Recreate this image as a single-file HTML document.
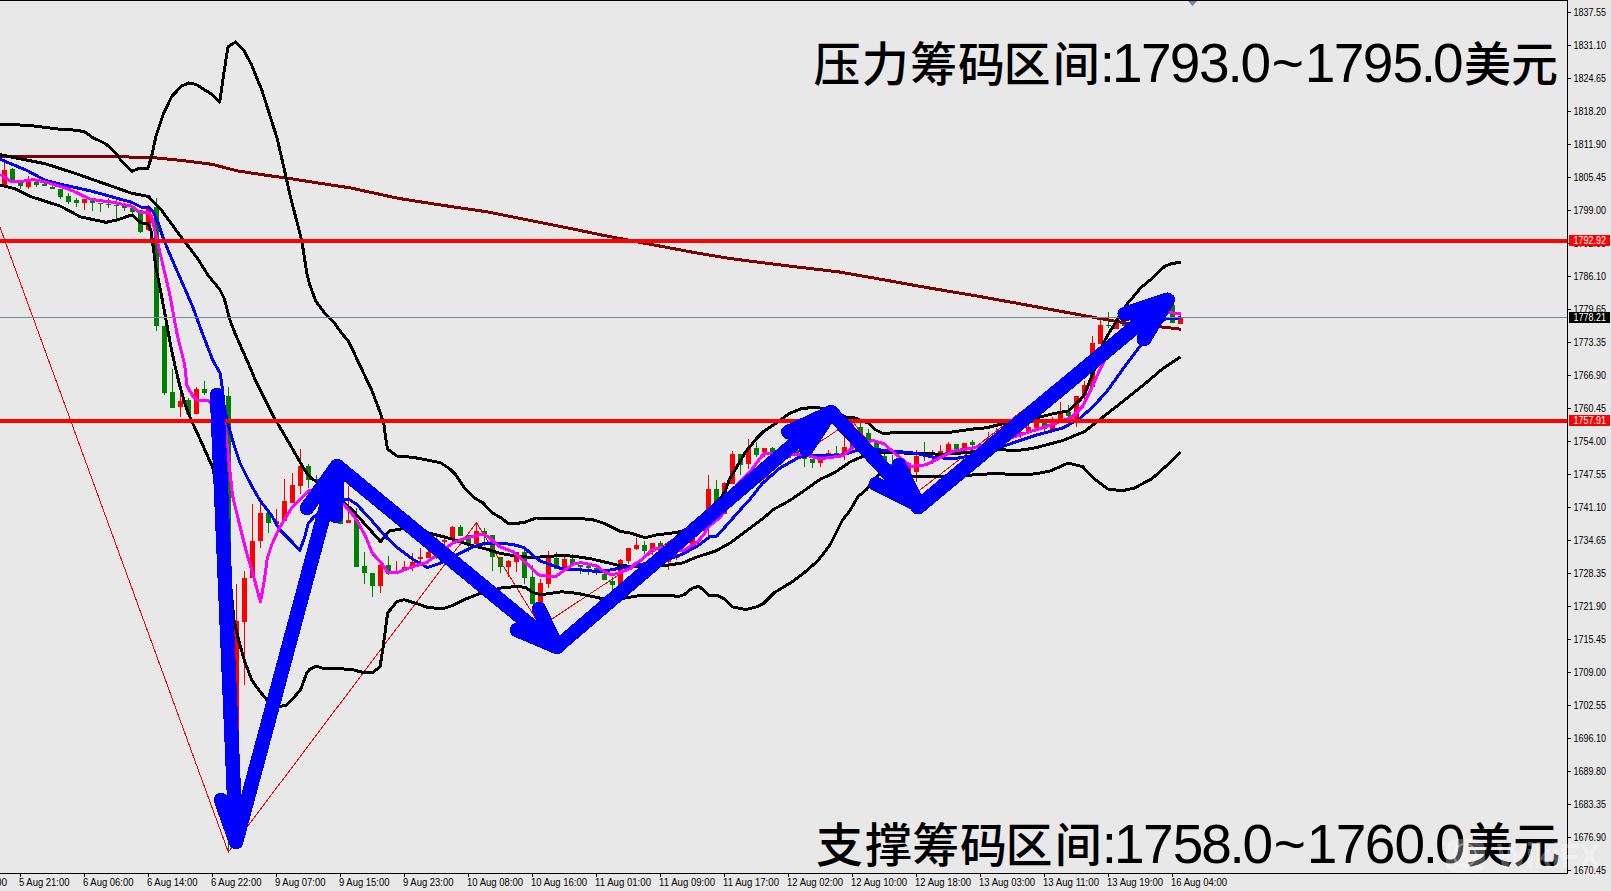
<!DOCTYPE html>
<html><head><meta charset="utf-8"><title>Chart</title><style>
html,body{margin:0;padding:0;background:#e8e8e8;width:1611px;height:891px;overflow:hidden}
svg{display:block}
polyline,line{shape-rendering:crispEdges}
.ax{font-family:"Liberation Sans","DejaVu Sans",sans-serif;font-size:10px;fill:#000}
.big{fill:#000}
.cj{font-family:"Liberation Sans","Noto Sans CJK SC",sans-serif;font-size:47px;font-weight:500}
.dg{font-family:"Liberation Sans",sans-serif;font-size:55px}
.wm{font-family:"Liberation Sans",sans-serif;font-size:35px;font-weight:bold;fill:#fff;opacity:0.3}
</style></head><body>
<svg width="1611" height="891" viewBox="0 0 1611 891">
<rect x="0" y="0" width="1567" height="1" fill="#000"/>
<rect x="1567" y="0" width="1" height="874" fill="#000"/>
<rect x="0" y="873" width="1568" height="1" fill="#000"/>
<defs><clipPath id="c"><rect x="0" y="1" width="1567" height="872"/></clipPath></defs>
<g clip-path="url(#c)">
<rect x="4" y="163" width="1" height="22" fill="#ff0000"/>
<rect x="2" y="170" width="5" height="15" fill="#ff0000"/>
<rect x="12" y="168" width="1" height="13" fill="#008000"/>
<rect x="10" y="169" width="5" height="12" fill="#008000"/>
<rect x="20" y="180" width="1" height="9" fill="#008000"/>
<rect x="18" y="180" width="5" height="6" fill="#008000"/>
<rect x="28" y="176" width="1" height="13" fill="#ff0000"/>
<rect x="26" y="182" width="5" height="5" fill="#ff0000"/>
<rect x="36" y="182" width="1" height="5" fill="#008000"/>
<rect x="34" y="182" width="5" height="3" fill="#008000"/>
<rect x="44" y="183" width="1" height="3" fill="#008000"/>
<rect x="42" y="184" width="5" height="2" fill="#008000"/>
<rect x="52" y="186" width="1" height="3" fill="#008000"/>
<rect x="50" y="187" width="5" height="2" fill="#008000"/>
<rect x="60" y="189" width="1" height="10" fill="#008000"/>
<rect x="58" y="189" width="5" height="8" fill="#008000"/>
<rect x="68" y="193" width="1" height="11" fill="#008000"/>
<rect x="66" y="196" width="5" height="6" fill="#008000"/>
<rect x="76" y="198" width="1" height="9" fill="#008000"/>
<rect x="74" y="200" width="5" height="3" fill="#008000"/>
<rect x="84" y="199" width="1" height="11" fill="#ff0000"/>
<rect x="82" y="199" width="5" height="4" fill="#ff0000"/>
<rect x="92" y="201" width="1" height="10" fill="#008000"/>
<rect x="90" y="201" width="5" height="2" fill="#008000"/>
<rect x="100" y="203" width="1" height="9" fill="#008000"/>
<rect x="98" y="203" width="5" height="1" fill="#008000"/>
<rect x="108" y="198" width="1" height="10" fill="#008000"/>
<rect x="106" y="204" width="5" height="1" fill="#008000"/>
<rect x="116" y="200" width="1" height="19" fill="#008000"/>
<rect x="114" y="205" width="5" height="1" fill="#008000"/>
<rect x="124" y="206" width="1" height="5" fill="#008000"/>
<rect x="122" y="206" width="5" height="2" fill="#008000"/>
<rect x="132" y="208" width="1" height="6" fill="#008000"/>
<rect x="130" y="208" width="5" height="4" fill="#008000"/>
<rect x="140" y="210" width="1" height="23" fill="#008000"/>
<rect x="138" y="210" width="5" height="22" fill="#008000"/>
<rect x="148" y="205" width="1" height="26" fill="#ff0000"/>
<rect x="146" y="209" width="5" height="21" fill="#ff0000"/>
<rect x="156" y="198" width="1" height="133" fill="#008000"/>
<rect x="154" y="207" width="5" height="119" fill="#008000"/>
<rect x="164" y="326" width="1" height="69" fill="#008000"/>
<rect x="162" y="326" width="5" height="67" fill="#008000"/>
<rect x="172" y="369" width="1" height="38" fill="#008000"/>
<rect x="170" y="392" width="5" height="16" fill="#008000"/>
<rect x="180" y="392" width="1" height="25" fill="#ff0000"/>
<rect x="178" y="401" width="5" height="6" fill="#ff0000"/>
<rect x="188" y="398" width="1" height="15" fill="#008000"/>
<rect x="186" y="400" width="5" height="14" fill="#008000"/>
<rect x="196" y="387" width="1" height="26" fill="#ff0000"/>
<rect x="194" y="389" width="5" height="25" fill="#ff0000"/>
<rect x="204" y="381" width="1" height="14" fill="#008000"/>
<rect x="202" y="389" width="5" height="4" fill="#008000"/>
<rect x="212" y="396" width="1" height="16" fill="#008000"/>
<rect x="210" y="398" width="5" height="12" fill="#008000"/>
<rect x="220" y="396" width="1" height="16" fill="#ff0000"/>
<rect x="218" y="398" width="5" height="12" fill="#ff0000"/>
<rect x="228" y="387" width="1" height="465" fill="#008000"/>
<rect x="226" y="396" width="5" height="165" fill="#008000"/>
<rect x="236" y="584" width="1" height="206" fill="#ff0000"/>
<rect x="234" y="621" width="5" height="119" fill="#ff0000"/>
<rect x="244" y="571" width="1" height="114" fill="#ff0000"/>
<rect x="242" y="578" width="5" height="44" fill="#ff0000"/>
<rect x="252" y="504" width="1" height="74" fill="#ff0000"/>
<rect x="250" y="541" width="5" height="37" fill="#ff0000"/>
<rect x="260" y="504" width="1" height="44" fill="#ff0000"/>
<rect x="258" y="513" width="5" height="28" fill="#ff0000"/>
<rect x="268" y="513" width="1" height="20" fill="#008000"/>
<rect x="266" y="513" width="5" height="10" fill="#008000"/>
<rect x="276" y="509" width="1" height="15" fill="#ff0000"/>
<rect x="274" y="521" width="5" height="3" fill="#ff0000"/>
<rect x="284" y="479" width="1" height="43" fill="#ff0000"/>
<rect x="282" y="501" width="5" height="20" fill="#ff0000"/>
<rect x="292" y="473" width="1" height="30" fill="#ff0000"/>
<rect x="290" y="485" width="5" height="18" fill="#ff0000"/>
<rect x="300" y="449" width="1" height="45" fill="#ff0000"/>
<rect x="298" y="466" width="5" height="20" fill="#ff0000"/>
<rect x="308" y="464" width="1" height="24" fill="#008000"/>
<rect x="306" y="466" width="5" height="14" fill="#008000"/>
<rect x="316" y="475" width="1" height="7" fill="#008000"/>
<rect x="314" y="479" width="5" height="2" fill="#008000"/>
<rect x="324" y="481" width="1" height="11" fill="#008000"/>
<rect x="322" y="483" width="5" height="7" fill="#008000"/>
<rect x="332" y="476" width="1" height="12" fill="#ff0000"/>
<rect x="330" y="478" width="5" height="8" fill="#ff0000"/>
<rect x="340" y="476" width="1" height="48" fill="#008000"/>
<rect x="338" y="492" width="5" height="32" fill="#008000"/>
<rect x="348" y="486" width="1" height="37" fill="#ff0000"/>
<rect x="346" y="520" width="5" height="3" fill="#ff0000"/>
<rect x="356" y="508" width="1" height="59" fill="#008000"/>
<rect x="354" y="520" width="5" height="47" fill="#008000"/>
<rect x="364" y="552" width="1" height="32" fill="#008000"/>
<rect x="362" y="566" width="5" height="7" fill="#008000"/>
<rect x="372" y="573" width="1" height="24" fill="#008000"/>
<rect x="370" y="573" width="5" height="13" fill="#008000"/>
<rect x="380" y="565" width="1" height="28" fill="#ff0000"/>
<rect x="378" y="565" width="5" height="21" fill="#ff0000"/>
<rect x="388" y="556" width="1" height="19" fill="#008000"/>
<rect x="386" y="565" width="5" height="9" fill="#008000"/>
<rect x="396" y="561" width="1" height="11" fill="#ff0000"/>
<rect x="394" y="571" width="5" height="1" fill="#ff0000"/>
<rect x="404" y="561" width="1" height="10" fill="#ff0000"/>
<rect x="402" y="567" width="5" height="3" fill="#ff0000"/>
<rect x="412" y="553" width="1" height="18" fill="#ff0000"/>
<rect x="410" y="562" width="5" height="4" fill="#ff0000"/>
<rect x="420" y="548" width="1" height="14" fill="#ff0000"/>
<rect x="418" y="557" width="5" height="2" fill="#ff0000"/>
<rect x="428" y="550" width="1" height="8" fill="#ff0000"/>
<rect x="426" y="552" width="5" height="6" fill="#ff0000"/>
<rect x="436" y="536" width="1" height="23" fill="#ff0000"/>
<rect x="434" y="545" width="5" height="7" fill="#ff0000"/>
<rect x="444" y="538" width="1" height="7" fill="#ff0000"/>
<rect x="442" y="540" width="5" height="2" fill="#ff0000"/>
<rect x="452" y="526" width="1" height="18" fill="#ff0000"/>
<rect x="450" y="527" width="5" height="11" fill="#ff0000"/>
<rect x="460" y="525" width="1" height="11" fill="#008000"/>
<rect x="458" y="527" width="5" height="9" fill="#008000"/>
<rect x="468" y="535" width="1" height="17" fill="#008000"/>
<rect x="466" y="535" width="5" height="10" fill="#008000"/>
<rect x="476" y="522" width="1" height="22" fill="#ff0000"/>
<rect x="474" y="531" width="5" height="13" fill="#ff0000"/>
<rect x="484" y="528" width="1" height="18" fill="#008000"/>
<rect x="482" y="531" width="5" height="3" fill="#008000"/>
<rect x="492" y="535" width="1" height="36" fill="#008000"/>
<rect x="490" y="535" width="5" height="22" fill="#008000"/>
<rect x="500" y="557" width="1" height="16" fill="#008000"/>
<rect x="498" y="557" width="5" height="10" fill="#008000"/>
<rect x="508" y="560" width="1" height="17" fill="#ff0000"/>
<rect x="506" y="561" width="5" height="6" fill="#ff0000"/>
<rect x="516" y="552" width="1" height="20" fill="#ff0000"/>
<rect x="514" y="552" width="5" height="10" fill="#ff0000"/>
<rect x="524" y="546" width="1" height="38" fill="#008000"/>
<rect x="522" y="552" width="5" height="26" fill="#008000"/>
<rect x="532" y="565" width="1" height="38" fill="#008000"/>
<rect x="530" y="577" width="5" height="27" fill="#008000"/>
<rect x="540" y="579" width="1" height="48" fill="#ff0000"/>
<rect x="538" y="583" width="5" height="23" fill="#ff0000"/>
<rect x="548" y="551" width="1" height="37" fill="#ff0000"/>
<rect x="546" y="558" width="5" height="26" fill="#ff0000"/>
<rect x="556" y="552" width="1" height="16" fill="#008000"/>
<rect x="554" y="558" width="5" height="11" fill="#008000"/>
<rect x="564" y="557" width="1" height="11" fill="#ff0000"/>
<rect x="562" y="559" width="5" height="9" fill="#ff0000"/>
<rect x="572" y="554" width="1" height="11" fill="#008000"/>
<rect x="570" y="559" width="5" height="6" fill="#008000"/>
<rect x="580" y="565" width="1" height="9" fill="#008000"/>
<rect x="578" y="565" width="5" height="2" fill="#008000"/>
<rect x="588" y="566" width="1" height="9" fill="#008000"/>
<rect x="586" y="566" width="5" height="2" fill="#008000"/>
<rect x="596" y="568" width="1" height="7" fill="#008000"/>
<rect x="594" y="568" width="5" height="4" fill="#008000"/>
<rect x="604" y="572" width="1" height="8" fill="#008000"/>
<rect x="602" y="574" width="5" height="6" fill="#008000"/>
<rect x="612" y="577" width="1" height="14" fill="#008000"/>
<rect x="610" y="581" width="5" height="4" fill="#008000"/>
<rect x="620" y="559" width="1" height="26" fill="#ff0000"/>
<rect x="618" y="560" width="5" height="25" fill="#ff0000"/>
<rect x="628" y="548" width="1" height="16" fill="#ff0000"/>
<rect x="626" y="548" width="5" height="13" fill="#ff0000"/>
<rect x="636" y="538" width="1" height="12" fill="#ff0000"/>
<rect x="634" y="545" width="5" height="4" fill="#ff0000"/>
<rect x="644" y="541" width="1" height="13" fill="#008000"/>
<rect x="642" y="545" width="5" height="6" fill="#008000"/>
<rect x="652" y="543" width="1" height="12" fill="#ff0000"/>
<rect x="650" y="543" width="5" height="7" fill="#ff0000"/>
<rect x="660" y="541" width="1" height="12" fill="#008000"/>
<rect x="658" y="543" width="5" height="10" fill="#008000"/>
<rect x="668" y="550" width="1" height="20" fill="#ff0000"/>
<rect x="666" y="555" width="5" height="7" fill="#ff0000"/>
<rect x="676" y="552" width="1" height="8" fill="#ff0000"/>
<rect x="674" y="554" width="5" height="4" fill="#ff0000"/>
<rect x="684" y="531" width="1" height="11" fill="#008000"/>
<rect x="682" y="533" width="5" height="7" fill="#008000"/>
<rect x="692" y="521" width="1" height="24" fill="#ff0000"/>
<rect x="690" y="538" width="5" height="7" fill="#ff0000"/>
<rect x="700" y="516" width="1" height="14" fill="#ff0000"/>
<rect x="698" y="518" width="5" height="10" fill="#ff0000"/>
<rect x="708" y="475" width="1" height="65" fill="#ff0000"/>
<rect x="706" y="489" width="5" height="22" fill="#ff0000"/>
<rect x="716" y="480" width="1" height="24" fill="#008000"/>
<rect x="714" y="489" width="5" height="14" fill="#008000"/>
<rect x="724" y="482" width="1" height="32" fill="#ff0000"/>
<rect x="722" y="483" width="5" height="31" fill="#ff0000"/>
<rect x="732" y="451" width="1" height="33" fill="#ff0000"/>
<rect x="730" y="454" width="5" height="30" fill="#ff0000"/>
<rect x="740" y="454" width="1" height="21" fill="#008000"/>
<rect x="738" y="454" width="5" height="11" fill="#008000"/>
<rect x="748" y="439" width="1" height="30" fill="#ff0000"/>
<rect x="746" y="448" width="5" height="16" fill="#ff0000"/>
<rect x="756" y="442" width="1" height="15" fill="#008000"/>
<rect x="754" y="448" width="5" height="7" fill="#008000"/>
<rect x="764" y="448" width="1" height="9" fill="#ff0000"/>
<rect x="762" y="448" width="5" height="4" fill="#ff0000"/>
<rect x="772" y="447" width="1" height="5" fill="#008000"/>
<rect x="770" y="448" width="5" height="4" fill="#008000"/>
<rect x="780" y="448" width="1" height="10" fill="#ff0000"/>
<rect x="778" y="450" width="5" height="5" fill="#ff0000"/>
<rect x="788" y="454" width="1" height="4" fill="#ff0000"/>
<rect x="786" y="456" width="5" height="2" fill="#ff0000"/>
<rect x="796" y="450" width="1" height="5" fill="#008000"/>
<rect x="794" y="450" width="5" height="5" fill="#008000"/>
<rect x="804" y="457" width="1" height="10" fill="#008000"/>
<rect x="802" y="457" width="5" height="2" fill="#008000"/>
<rect x="812" y="459" width="1" height="9" fill="#008000"/>
<rect x="810" y="459" width="5" height="4" fill="#008000"/>
<rect x="820" y="459" width="1" height="8" fill="#ff0000"/>
<rect x="818" y="459" width="5" height="4" fill="#ff0000"/>
<rect x="828" y="450" width="1" height="4" fill="#ff0000"/>
<rect x="826" y="453" width="5" height="1" fill="#ff0000"/>
<rect x="836" y="446" width="1" height="8" fill="#008000"/>
<rect x="834" y="453" width="5" height="1" fill="#008000"/>
<rect x="844" y="435" width="1" height="25" fill="#ff0000"/>
<rect x="842" y="447" width="5" height="7" fill="#ff0000"/>
<rect x="852" y="423" width="1" height="25" fill="#ff0000"/>
<rect x="850" y="442" width="5" height="6" fill="#ff0000"/>
<rect x="860" y="423" width="1" height="10" fill="#008000"/>
<rect x="858" y="427" width="5" height="6" fill="#008000"/>
<rect x="868" y="429" width="1" height="11" fill="#008000"/>
<rect x="866" y="433" width="5" height="7" fill="#008000"/>
<rect x="876" y="443" width="1" height="8" fill="#008000"/>
<rect x="874" y="443" width="5" height="8" fill="#008000"/>
<rect x="884" y="454" width="1" height="9" fill="#008000"/>
<rect x="882" y="456" width="5" height="6" fill="#008000"/>
<rect x="892" y="455" width="1" height="15" fill="#008000"/>
<rect x="890" y="464" width="5" height="2" fill="#008000"/>
<rect x="900" y="464" width="1" height="10" fill="#008000"/>
<rect x="898" y="466" width="5" height="6" fill="#008000"/>
<rect x="908" y="463" width="1" height="12" fill="#ff0000"/>
<rect x="906" y="463" width="5" height="12" fill="#ff0000"/>
<rect x="916" y="450" width="1" height="32" fill="#ff0000"/>
<rect x="914" y="456" width="5" height="16" fill="#ff0000"/>
<rect x="924" y="442" width="1" height="19" fill="#008000"/>
<rect x="922" y="453" width="5" height="2" fill="#008000"/>
<rect x="932" y="450" width="1" height="14" fill="#ff0000"/>
<rect x="930" y="456" width="5" height="2" fill="#ff0000"/>
<rect x="940" y="445" width="1" height="8" fill="#ff0000"/>
<rect x="938" y="451" width="5" height="2" fill="#ff0000"/>
<rect x="948" y="442" width="1" height="10" fill="#ff0000"/>
<rect x="946" y="444" width="5" height="8" fill="#ff0000"/>
<rect x="956" y="444" width="1" height="5" fill="#008000"/>
<rect x="954" y="444" width="5" height="5" fill="#008000"/>
<rect x="964" y="443" width="1" height="5" fill="#ff0000"/>
<rect x="962" y="443" width="5" height="5" fill="#ff0000"/>
<rect x="972" y="440" width="1" height="6" fill="#008000"/>
<rect x="970" y="442" width="5" height="3" fill="#008000"/>
<rect x="980" y="446" width="1" height="2" fill="#008000"/>
<rect x="978" y="446" width="5" height="2" fill="#008000"/>
<rect x="988" y="432" width="1" height="10" fill="#ff0000"/>
<rect x="986" y="438" width="5" height="4" fill="#ff0000"/>
<rect x="996" y="428" width="1" height="6" fill="#ff0000"/>
<rect x="994" y="433" width="5" height="1" fill="#ff0000"/>
<rect x="1004" y="431" width="1" height="8" fill="#ff0000"/>
<rect x="1002" y="433" width="5" height="4" fill="#ff0000"/>
<rect x="1012" y="428" width="1" height="8" fill="#ff0000"/>
<rect x="1010" y="430" width="5" height="4" fill="#ff0000"/>
<rect x="1020" y="432" width="1" height="6" fill="#ff0000"/>
<rect x="1018" y="432" width="5" height="2" fill="#ff0000"/>
<rect x="1028" y="425" width="1" height="7" fill="#ff0000"/>
<rect x="1026" y="427" width="5" height="5" fill="#ff0000"/>
<rect x="1036" y="417" width="1" height="11" fill="#ff0000"/>
<rect x="1034" y="421" width="5" height="7" fill="#ff0000"/>
<rect x="1044" y="423" width="1" height="9" fill="#008000"/>
<rect x="1042" y="423" width="5" height="6" fill="#008000"/>
<rect x="1052" y="417" width="1" height="14" fill="#ff0000"/>
<rect x="1050" y="421" width="5" height="10" fill="#ff0000"/>
<rect x="1060" y="402" width="1" height="19" fill="#ff0000"/>
<rect x="1058" y="414" width="5" height="7" fill="#ff0000"/>
<rect x="1068" y="405" width="1" height="13" fill="#008000"/>
<rect x="1066" y="412" width="5" height="4" fill="#008000"/>
<rect x="1076" y="396" width="1" height="31" fill="#ff0000"/>
<rect x="1074" y="396" width="5" height="23" fill="#ff0000"/>
<rect x="1084" y="381" width="1" height="19" fill="#ff0000"/>
<rect x="1082" y="385" width="5" height="11" fill="#ff0000"/>
<rect x="1092" y="336" width="1" height="50" fill="#ff0000"/>
<rect x="1090" y="343" width="5" height="44" fill="#ff0000"/>
<rect x="1100" y="320" width="1" height="24" fill="#ff0000"/>
<rect x="1098" y="325" width="5" height="19" fill="#ff0000"/>
<rect x="1108" y="312" width="1" height="16" fill="#008000"/>
<rect x="1106" y="325" width="5" height="1" fill="#008000"/>
<rect x="1116" y="320" width="1" height="9" fill="#ff0000"/>
<rect x="1114" y="322" width="5" height="7" fill="#ff0000"/>
<rect x="1124" y="320" width="1" height="7" fill="#008000"/>
<rect x="1122" y="324" width="5" height="2" fill="#008000"/>
<rect x="1132" y="312" width="1" height="12" fill="#ff0000"/>
<rect x="1130" y="315" width="5" height="7" fill="#ff0000"/>
<rect x="1140" y="308" width="1" height="12" fill="#008000"/>
<rect x="1138" y="312" width="5" height="6" fill="#008000"/>
<rect x="1148" y="305" width="1" height="13" fill="#ff0000"/>
<rect x="1146" y="308" width="5" height="8" fill="#ff0000"/>
<rect x="1156" y="300" width="1" height="12" fill="#ff0000"/>
<rect x="1154" y="304" width="5" height="6" fill="#ff0000"/>
<rect x="1164" y="298" width="1" height="12" fill="#008000"/>
<rect x="1162" y="302" width="5" height="6" fill="#008000"/>
<rect x="1172" y="295" width="1" height="28" fill="#008000"/>
<rect x="1170" y="305" width="5" height="18" fill="#008000"/>
<rect x="1180" y="312" width="1" height="11" fill="#ff0000"/>
<rect x="1178" y="317" width="5" height="7" fill="#ff0000"/>
<polyline points="0.0,227.3 228.3,852.0 476.4,522.6 540.6,626.5 852.0,420.6 911.0,497.0 1172.0,295.0" fill="none" stroke="#ff0000" stroke-width="1"/>
<polyline points="0.0,156.2 91.0,156.7 140.0,157.1 156.1,157.9 180.3,160.3 212.6,164.4 236.8,170.8 269.1,175.7 286.9,178.1 317.5,182.9 349.8,187.8 398.2,198.3 438.6,204.7 488.3,212.0 538.0,222.0 587.6,232.0 600.0,234.7 640.3,242.4 693.1,252.3 730.4,258.6 786.2,265.7 839.0,271.9 879.3,279.0 925.9,287.4 972.4,295.2 1019.0,303.6 1065.5,312.2 1100.0,318.5 1125.7,323.0 1159.6,326.7 1181.0,329.2" fill="none" stroke="#800000" stroke-width="3" stroke-linejoin="round"/>
<polyline points="0.0,124.4 15.2,124.7 30.3,125.6 45.5,127.4 60.6,129.4 77.3,130.2 84.8,132.0 92.4,137.3 106.0,144.0 116.7,154.0 121.2,160.8 131.8,171.4 139.4,168.3 147.7,169.0 151.5,157.0 156.0,136.0 163.6,113.3 172.0,96.0 181.8,86.0 188.6,83.0 196.2,84.5 204.5,89.8 212.0,94.4 219.7,102.0 224.2,71.0 228.0,46.7 235.6,42.0 244.0,50.5 251.5,64.8 262.0,90.6 269.7,114.8 277.3,139.0 283.3,165.0 290.0,195.0 299.0,230.0 302.0,242.0 306.7,272.4 309.7,284.5 315.8,301.2 324.8,313.3 334.0,322.4 341.5,333.0 349.0,342.0 359.7,365.0 371.8,390.3 380.0,412.0 384.0,425.0 386.0,440.0 387.6,449.0 396.7,456.0 413.3,457.4 425.5,459.7 440.6,462.7 449.7,468.8 455.8,474.8 464.8,488.5 474.0,497.6 483.0,502.9 492.0,512.7 501.2,518.0 508.8,524.0 524.0,522.6 536.0,518.0 577.0,518.5 592.0,519.5 604.0,523.3 620.0,531.4 630.8,533.2 645.0,537.7 656.0,535.0 677.5,532.3 684.7,530.5 700.0,520.0 712.0,507.0 721.2,497.6 725.7,490.0 729.4,479.4 736.8,467.0 745.5,452.0 756.7,438.4 764.1,431.0 776.6,422.9 789.0,413.6 801.4,408.6 813.8,407.4 826.2,408.6 845.8,417.0 854.8,418.0 868.5,423.2 874.5,429.2 883.6,433.8 895.8,432.3 926.0,432.3 950.3,432.3 971.5,429.2 986.7,427.7 1001.8,424.0 1020.0,421.0 1035.9,418.0 1053.9,413.6 1069.0,410.8 1076.8,403.0 1080.1,400.0 1084.6,394.0 1088.0,386.0 1092.4,374.0 1095.8,367.3 1103.6,342.6 1109.3,332.5 1114.9,323.5 1121.0,313.0 1128.3,302.2 1132.0,298.4 1140.8,287.7 1150.8,279.5 1164.7,266.3 1171.0,263.8 1181.0,262.0" fill="none" stroke="#000" stroke-width="3" stroke-linejoin="round"/>
<polyline points="0.0,154.7 15.0,157.7 45.5,163.8 75.8,173.6 106.0,184.2 131.8,193.3 148.5,196.4 151.5,200.0 160.6,209.0 181.8,238.0 197.0,257.6 208.2,275.5 219.7,289.4 224.2,298.5 230.3,321.2 235.5,334.5 249.0,365.0 255.2,379.7 273.3,416.0 284.0,434.2 294.5,452.4 305.0,470.6 311.2,478.2 315.8,481.2 330.0,492.0 343.0,502.0 352.0,509.7 380.6,541.6 389.3,531.0 402.7,528.6 430.0,533.2 452.7,539.2 471.0,545.3 486.0,549.0 501.2,553.6 516.4,556.0 531.5,557.4 546.7,556.7 561.8,555.2 577.0,556.7 592.0,559.0 620.0,565.7 638.0,566.5 665.0,565.6 682.9,562.9 695.4,557.5 715.2,551.2 731.4,542.2 745.7,531.4 763.7,518.0 772.7,509.9 790.6,500.0 805.0,490.0 820.0,479.4 835.0,472.4 850.3,461.8 862.4,456.5 873.0,452.7 895.8,452.7 917.0,453.5 941.2,454.2 956.4,453.5 971.5,452.0 986.7,449.7 998.8,449.0 1009.4,450.5 1023.3,449.9 1035.9,447.7 1062.8,440.5 1084.4,431.6 1100.5,419.0 1125.7,399.2 1143.6,384.9 1161.6,369.6 1180.4,357.0" fill="none" stroke="#000" stroke-width="3" stroke-linejoin="round"/>
<polyline points="0.0,185.0 15.0,188.8 30.3,196.4 60.6,206.2 80.3,216.8 106.0,222.3 118.0,219.8 130.3,215.3 133.3,216.0 141.0,222.9 147.7,223.6 150.8,229.7 153.0,245.5 156.0,268.0 160.6,291.0 165.5,317.0 170.3,343.6 174.8,365.0 179.4,384.2 185.5,405.5 191.5,420.6 200.6,440.3 212.7,467.6 220.0,500.0 228.0,560.0 234.0,620.0 238.5,639.7 244.5,661.0 252.0,680.6 259.7,691.2 266.5,699.5 272.0,704.0 278.6,706.4 285.5,705.6 291.5,700.3 300.6,689.7 306.7,673.0 309.7,669.2 316.5,666.2 323.3,668.5 337.0,668.8 350.6,669.2 362.7,672.3 371.8,673.0 380.0,667.0 383.0,648.0 387.6,613.0 396.7,601.7 404.2,599.7 418.0,604.0 428.5,607.7 443.6,608.5 452.7,605.5 464.8,599.4 478.5,594.0 489.0,591.0 501.2,588.0 516.4,586.5 525.5,587.3 531.5,591.8 540.6,594.8 561.8,591.8 577.0,593.3 592.0,596.4 604.0,599.0 620.0,598.8 641.6,595.2 672.0,595.2 677.5,597.0 684.7,594.3 691.8,588.4 699.0,586.2 709.0,595.2 717.0,595.2 724.2,598.8 732.2,606.9 745.7,609.6 756.5,606.9 763.7,603.3 774.5,592.5 792.4,581.7 803.2,573.6 817.6,561.0 830.0,545.0 842.7,519.8 849.9,510.8 857.9,496.7 867.0,489.0 873.0,480.0 879.0,474.7 895.0,476.0 917.0,476.2 941.2,476.2 965.5,475.5 986.7,474.0 1000.0,473.8 1023.3,474.7 1035.9,473.8 1050.3,471.0 1068.2,463.0 1082.6,466.6 1093.4,478.2 1107.7,489.0 1122.0,490.8 1134.6,488.0 1152.6,478.2 1170.6,462.0 1180.4,452.2" fill="none" stroke="#000" stroke-width="3" stroke-linejoin="round"/>
<polyline points="0.0,159.2 27.3,170.6 45.5,180.5 60.6,184.2 91.0,191.0 131.8,202.4 141.0,207.0 148.5,207.0 153.0,211.5 159.0,225.0 163.6,239.4 171.2,257.6 181.8,281.8 192.4,306.0 203.0,335.0 212.7,360.0 220.3,373.6 222.6,390.3 224.0,405.5 227.9,423.6 234.0,444.8 240.0,463.0 247.6,478.2 256.7,495.0 261.2,502.0 271.8,515.8 279.4,529.4 291.5,541.5 299.8,550.6 305.2,535.5 308.2,523.3 313.5,517.3 325.0,508.0 341.7,499.6 348.5,499.0 357.0,504.6 370.7,519.4 385.6,536.7 399.0,549.0 414.0,560.0 427.5,567.5 438.6,563.8 455.8,555.2 471.0,547.6 486.0,543.0 501.2,543.0 516.4,545.3 524.0,547.6 539.0,560.5 561.8,568.8 577.0,569.5 599.7,571.8 620.0,568.2 648.7,562.9 673.9,557.5 684.7,553.0 699.0,545.0 709.8,536.8 717.0,536.0 731.4,519.8 745.5,504.0 750.0,499.3 762.0,483.8 779.6,468.3 798.5,457.5 810.6,455.0 830.0,455.5 840.0,455.5 859.4,449.7 877.6,449.7 895.8,451.2 917.0,453.5 933.6,457.3 953.3,458.8 971.5,455.8 986.7,451.2 1001.8,446.7 1035.9,435.2 1062.8,428.0 1079.0,419.0 1093.4,406.4 1107.7,390.3 1125.7,365.1 1140.0,346.3 1150.0,330.0 1166.0,318.5 1181.0,317.9" fill="none" stroke="#0000ff" stroke-width="3" stroke-linejoin="round"/>
<polyline points="0.0,174.4 12.1,182.0 22.7,181.2 33.3,179.7 45.5,182.0 68.2,188.8 91.0,199.4 113.6,202.4 131.8,206.2 139.4,212.3 147.7,212.3 151.5,216.0 154.5,228.8 157.6,242.4 163.6,268.0 169.7,294.0 177.3,335.0 184.7,365.0 187.0,385.8 193.0,396.4 197.6,400.0 208.2,400.6 211.2,404.0 220.0,415.0 224.8,423.6 229.4,466.0 232.4,495.0 238.5,520.3 246.0,550.6 253.6,576.4 260.5,602.0 264.2,581.0 267.3,558.2 271.8,544.5 279.4,527.9 291.5,508.2 309.7,490.0 325.0,490.0 342.3,502.7 354.7,517.0 365.8,536.7 372.0,552.7 381.9,563.8 388.0,572.5 398.0,572.5 410.2,567.5 426.3,562.6 438.6,554.0 452.7,543.0 464.8,538.5 483.0,534.0 489.0,537.0 498.2,546.0 513.3,552.0 524.0,561.2 539.0,575.0 555.0,577.0 574.0,563.5 581.5,562.7 596.7,566.0 604.0,571.5 612.0,575.0 620.3,572.5 630.4,568.5 635.5,563.4 642.5,559.4 652.6,549.3 662.7,547.3 683.3,550.6 697.2,542.2 704.4,534.0 708.0,527.0 720.6,517.0 736.8,484.4 751.7,469.5 764.1,453.3 776.6,454.0 801.4,454.0 820.0,458.8 842.7,455.8 857.9,443.6 873.0,440.6 883.6,443.6 895.8,454.2 911.0,466.4 926.0,464.8 938.2,458.8 953.3,451.2 971.5,448.2 986.7,444.4 1017.0,436.0 1035.9,429.8 1057.5,422.6 1071.8,417.2 1082.6,406.4 1089.8,392.0 1097.0,376.0 1104.0,361.5 1112.0,350.0 1125.0,335.0 1140.0,322.0 1155.0,314.0 1167.0,312.2 1181.0,314.0" fill="none" stroke="#ff00ff" stroke-width="3" stroke-linejoin="round"/>
<rect x="0" y="317" width="1567" height="1" fill="#778899"/>
<rect x="0" y="239" width="1567" height="4" fill="#ff0000"/>
<rect x="0" y="419" width="1567" height="4" fill="#ff0000"/>
<g stroke="#0000ff" stroke-linecap="round" stroke-linejoin="round" fill="none"><g stroke-width="14.5"><line x1="217" y1="395" x2="236" y2="842"/><line x1="221" y1="800" x2="236" y2="842"/></g>
<g stroke-width="14.5"><line x1="236" y1="842" x2="337" y2="466"/><line x1="307" y1="508" x2="337" y2="466"/><line x1="336" y1="516" x2="337" y2="466"/></g>
<g stroke-width="14.5"><line x1="337" y1="466" x2="557" y2="647"/><line x1="517" y1="630" x2="557" y2="647"/><line x1="539" y1="609" x2="557" y2="647"/></g>
<g stroke-width="14"><line x1="557" y1="647" x2="831" y2="412"/><line x1="788" y1="432" x2="831" y2="412"/><line x1="806" y1="450" x2="831" y2="412"/></g>
<g stroke-width="14.5"><line x1="831" y1="412" x2="918" y2="505"/><line x1="876" y1="484" x2="918" y2="505"/><line x1="899" y1="465" x2="918" y2="505"/></g>
<g stroke-width="15"><line x1="918" y1="507" x2="1167.5" y2="300"/><line x1="1125" y1="314" x2="1167.5" y2="300"/><line x1="1144" y1="339" x2="1167.5" y2="300"/></g></g>
<text class="big"><tspan x="813.6" y="80.5" class="cj">压</tspan><tspan x="861.8" y="80.5" class="cj">力</tspan><tspan x="910.2" y="80.5" class="cj">筹</tspan><tspan x="958.0" y="80.5" class="cj">码</tspan><tspan x="1003.4" y="80.5" class="cj">区</tspan><tspan x="1052.8" y="80.5" class="cj">间</tspan><tspan x="1099.8" y="82.0" class="dg">:</tspan><tspan x="1112.0" y="82.0" class="dg">1</tspan><tspan x="1140.9" y="82.0" class="dg">7</tspan><tspan x="1169.7" y="82.0" class="dg">9</tspan><tspan x="1199.0" y="82.0" class="dg">3</tspan><tspan x="1227.5" y="82.0" class="dg">.</tspan><tspan x="1240.4" y="82.0" class="dg">0</tspan><tspan x="1271.7" y="82.0" class="dg">~</tspan><tspan x="1304.7" y="82.0" class="dg">1</tspan><tspan x="1333.7" y="82.0" class="dg">7</tspan><tspan x="1362.8" y="82.0" class="dg">9</tspan><tspan x="1392.5" y="82.0" class="dg">5</tspan><tspan x="1420.8" y="82.0" class="dg">.</tspan><tspan x="1433.0" y="82.0" class="dg">0</tspan><tspan x="1464.0" y="80.5" class="cj">美</tspan><tspan x="1511.0" y="80.5" class="cj">元</tspan></text>
<text class="big"><tspan x="815.9" y="861.5" class="cj">支</tspan><tspan x="865.1" y="861.5" class="cj">撑</tspan><tspan x="912.3" y="861.5" class="cj">筹</tspan><tspan x="960.0" y="861.5" class="cj">码</tspan><tspan x="1005.4" y="861.5" class="cj">区</tspan><tspan x="1054.8" y="861.5" class="cj">间</tspan><tspan x="1101.8" y="863.0" class="dg">:</tspan><tspan x="1114.0" y="863.0" class="dg">1</tspan><tspan x="1142.9" y="863.0" class="dg">7</tspan><tspan x="1172.8" y="863.0" class="dg">5</tspan><tspan x="1201.3" y="863.0" class="dg">8</tspan><tspan x="1229.5" y="863.0" class="dg">.</tspan><tspan x="1242.4" y="863.0" class="dg">0</tspan><tspan x="1273.7" y="863.0" class="dg">~</tspan><tspan x="1306.7" y="863.0" class="dg">1</tspan><tspan x="1335.7" y="863.0" class="dg">7</tspan><tspan x="1364.8" y="863.0" class="dg">6</tspan><tspan x="1394.5" y="863.0" class="dg">0</tspan><tspan x="1422.8" y="863.0" class="dg">.</tspan><tspan x="1435.0" y="863.0" class="dg">0</tspan><tspan x="1466.0" y="861.5" class="cj">美</tspan><tspan x="1513.0" y="861.5" class="cj">元</tspan></text>
</g>
<g opacity="0.3" fill="#fff"><rect x="1446" y="839" width="39" height="34" rx="10" ry="10"/></g>
<g opacity="0.35" fill="none" stroke="#fff" stroke-width="2"><circle cx="1465" cy="855" r="11"/></g>
<text x="1497" y="868" class="wm" textLength="103" lengthAdjust="spacingAndGlyphs">WikiFX</text>
<line x1="1568" y1="12.5" x2="1571" y2="12.5" stroke="#000" stroke-width="1"/>
<text x="1573.5" y="16" class="ax" textLength="32.5" lengthAdjust="spacingAndGlyphs">1837.55</text>
<line x1="1568" y1="45.5" x2="1571" y2="45.5" stroke="#000" stroke-width="1"/>
<text x="1573.5" y="49" class="ax" textLength="32.5" lengthAdjust="spacingAndGlyphs">1831.10</text>
<line x1="1568" y1="78.5" x2="1571" y2="78.5" stroke="#000" stroke-width="1"/>
<text x="1573.5" y="82" class="ax" textLength="32.5" lengthAdjust="spacingAndGlyphs">1824.65</text>
<line x1="1568" y1="111.5" x2="1571" y2="111.5" stroke="#000" stroke-width="1"/>
<text x="1573.5" y="115" class="ax" textLength="32.5" lengthAdjust="spacingAndGlyphs">1818.20</text>
<line x1="1568" y1="144.5" x2="1571" y2="144.5" stroke="#000" stroke-width="1"/>
<text x="1573.5" y="148" class="ax" textLength="32.5" lengthAdjust="spacingAndGlyphs">1811.90</text>
<line x1="1568" y1="177.5" x2="1571" y2="177.5" stroke="#000" stroke-width="1"/>
<text x="1573.5" y="181" class="ax" textLength="32.5" lengthAdjust="spacingAndGlyphs">1805.45</text>
<line x1="1568" y1="210.5" x2="1571" y2="210.5" stroke="#000" stroke-width="1"/>
<text x="1573.5" y="214" class="ax" textLength="32.5" lengthAdjust="spacingAndGlyphs">1799.00</text>
<line x1="1568" y1="243.5" x2="1571" y2="243.5" stroke="#000" stroke-width="1"/>
<text x="1573.5" y="247" class="ax" textLength="32.5" lengthAdjust="spacingAndGlyphs">1792.55</text>
<line x1="1568" y1="276.5" x2="1571" y2="276.5" stroke="#000" stroke-width="1"/>
<text x="1573.5" y="280" class="ax" textLength="32.5" lengthAdjust="spacingAndGlyphs">1786.10</text>
<line x1="1568" y1="309.5" x2="1571" y2="309.5" stroke="#000" stroke-width="1"/>
<text x="1573.5" y="313" class="ax" textLength="32.5" lengthAdjust="spacingAndGlyphs">1779.65</text>
<line x1="1568" y1="342.5" x2="1571" y2="342.5" stroke="#000" stroke-width="1"/>
<text x="1573.5" y="346" class="ax" textLength="32.5" lengthAdjust="spacingAndGlyphs">1773.35</text>
<line x1="1568" y1="375.5" x2="1571" y2="375.5" stroke="#000" stroke-width="1"/>
<text x="1573.5" y="379" class="ax" textLength="32.5" lengthAdjust="spacingAndGlyphs">1766.90</text>
<line x1="1568" y1="408.5" x2="1571" y2="408.5" stroke="#000" stroke-width="1"/>
<text x="1573.5" y="412" class="ax" textLength="32.5" lengthAdjust="spacingAndGlyphs">1760.45</text>
<line x1="1568" y1="441.5" x2="1571" y2="441.5" stroke="#000" stroke-width="1"/>
<text x="1573.5" y="445" class="ax" textLength="32.5" lengthAdjust="spacingAndGlyphs">1754.00</text>
<line x1="1568" y1="474.5" x2="1571" y2="474.5" stroke="#000" stroke-width="1"/>
<text x="1573.5" y="478" class="ax" textLength="32.5" lengthAdjust="spacingAndGlyphs">1747.55</text>
<line x1="1568" y1="507.5" x2="1571" y2="507.5" stroke="#000" stroke-width="1"/>
<text x="1573.5" y="511" class="ax" textLength="32.5" lengthAdjust="spacingAndGlyphs">1741.10</text>
<line x1="1568" y1="540.5" x2="1571" y2="540.5" stroke="#000" stroke-width="1"/>
<text x="1573.5" y="544" class="ax" textLength="32.5" lengthAdjust="spacingAndGlyphs">1734.65</text>
<line x1="1568" y1="573.5" x2="1571" y2="573.5" stroke="#000" stroke-width="1"/>
<text x="1573.5" y="577" class="ax" textLength="32.5" lengthAdjust="spacingAndGlyphs">1728.35</text>
<line x1="1568" y1="606.5" x2="1571" y2="606.5" stroke="#000" stroke-width="1"/>
<text x="1573.5" y="610" class="ax" textLength="32.5" lengthAdjust="spacingAndGlyphs">1721.90</text>
<line x1="1568" y1="639.5" x2="1571" y2="639.5" stroke="#000" stroke-width="1"/>
<text x="1573.5" y="643" class="ax" textLength="32.5" lengthAdjust="spacingAndGlyphs">1715.45</text>
<line x1="1568" y1="672.5" x2="1571" y2="672.5" stroke="#000" stroke-width="1"/>
<text x="1573.5" y="676" class="ax" textLength="32.5" lengthAdjust="spacingAndGlyphs">1709.00</text>
<line x1="1568" y1="705.5" x2="1571" y2="705.5" stroke="#000" stroke-width="1"/>
<text x="1573.5" y="709" class="ax" textLength="32.5" lengthAdjust="spacingAndGlyphs">1702.55</text>
<line x1="1568" y1="738.5" x2="1571" y2="738.5" stroke="#000" stroke-width="1"/>
<text x="1573.5" y="742" class="ax" textLength="32.5" lengthAdjust="spacingAndGlyphs">1696.10</text>
<line x1="1568" y1="771.5" x2="1571" y2="771.5" stroke="#000" stroke-width="1"/>
<text x="1573.5" y="775" class="ax" textLength="32.5" lengthAdjust="spacingAndGlyphs">1689.80</text>
<line x1="1568" y1="804.5" x2="1571" y2="804.5" stroke="#000" stroke-width="1"/>
<text x="1573.5" y="808" class="ax" textLength="32.5" lengthAdjust="spacingAndGlyphs">1683.35</text>
<line x1="1568" y1="837.5" x2="1571" y2="837.5" stroke="#000" stroke-width="1"/>
<text x="1573.5" y="841" class="ax" textLength="32.5" lengthAdjust="spacingAndGlyphs">1676.90</text>
<line x1="1568" y1="870.5" x2="1571" y2="870.5" stroke="#000" stroke-width="1"/>
<text x="1573.5" y="874" class="ax" textLength="32.5" lengthAdjust="spacingAndGlyphs">1670.45</text>
<text x="-4" y="886" class="ax">00</text>
<line x1="20.5" y1="874" x2="20.5" y2="877" stroke="#000" stroke-width="1"/>
<text x="19" y="886" class="ax" textLength="50.5" lengthAdjust="spacingAndGlyphs">5 Aug 21:00</text>
<line x1="84.5" y1="874" x2="84.5" y2="877" stroke="#000" stroke-width="1"/>
<text x="83" y="886" class="ax" textLength="50.5" lengthAdjust="spacingAndGlyphs">6 Aug 06:00</text>
<line x1="148.5" y1="874" x2="148.5" y2="877" stroke="#000" stroke-width="1"/>
<text x="147" y="886" class="ax" textLength="50.5" lengthAdjust="spacingAndGlyphs">6 Aug 14:00</text>
<line x1="212.5" y1="874" x2="212.5" y2="877" stroke="#000" stroke-width="1"/>
<text x="211" y="886" class="ax" textLength="50.5" lengthAdjust="spacingAndGlyphs">6 Aug 22:00</text>
<line x1="276.5" y1="874" x2="276.5" y2="877" stroke="#000" stroke-width="1"/>
<text x="275" y="886" class="ax" textLength="50.5" lengthAdjust="spacingAndGlyphs">9 Aug 07:00</text>
<line x1="340.5" y1="874" x2="340.5" y2="877" stroke="#000" stroke-width="1"/>
<text x="339" y="886" class="ax" textLength="50.5" lengthAdjust="spacingAndGlyphs">9 Aug 15:00</text>
<line x1="404.5" y1="874" x2="404.5" y2="877" stroke="#000" stroke-width="1"/>
<text x="403" y="886" class="ax" textLength="50.5" lengthAdjust="spacingAndGlyphs">9 Aug 23:00</text>
<line x1="468.5" y1="874" x2="468.5" y2="877" stroke="#000" stroke-width="1"/>
<text x="467" y="886" class="ax" textLength="56" lengthAdjust="spacingAndGlyphs">10 Aug 08:00</text>
<line x1="532.5" y1="874" x2="532.5" y2="877" stroke="#000" stroke-width="1"/>
<text x="531" y="886" class="ax" textLength="56" lengthAdjust="spacingAndGlyphs">10 Aug 16:00</text>
<line x1="596.5" y1="874" x2="596.5" y2="877" stroke="#000" stroke-width="1"/>
<text x="595" y="886" class="ax" textLength="56" lengthAdjust="spacingAndGlyphs">11 Aug 01:00</text>
<line x1="660.5" y1="874" x2="660.5" y2="877" stroke="#000" stroke-width="1"/>
<text x="659" y="886" class="ax" textLength="56" lengthAdjust="spacingAndGlyphs">11 Aug 09:00</text>
<line x1="724.5" y1="874" x2="724.5" y2="877" stroke="#000" stroke-width="1"/>
<text x="723" y="886" class="ax" textLength="56" lengthAdjust="spacingAndGlyphs">11 Aug 17:00</text>
<line x1="788.5" y1="874" x2="788.5" y2="877" stroke="#000" stroke-width="1"/>
<text x="787" y="886" class="ax" textLength="56" lengthAdjust="spacingAndGlyphs">12 Aug 02:00</text>
<line x1="852.5" y1="874" x2="852.5" y2="877" stroke="#000" stroke-width="1"/>
<text x="851" y="886" class="ax" textLength="56" lengthAdjust="spacingAndGlyphs">12 Aug 10:00</text>
<line x1="916.5" y1="874" x2="916.5" y2="877" stroke="#000" stroke-width="1"/>
<text x="915" y="886" class="ax" textLength="56" lengthAdjust="spacingAndGlyphs">12 Aug 18:00</text>
<line x1="980.5" y1="874" x2="980.5" y2="877" stroke="#000" stroke-width="1"/>
<text x="979" y="886" class="ax" textLength="56" lengthAdjust="spacingAndGlyphs">13 Aug 03:00</text>
<line x1="1044.5" y1="874" x2="1044.5" y2="877" stroke="#000" stroke-width="1"/>
<text x="1043" y="886" class="ax" textLength="56" lengthAdjust="spacingAndGlyphs">13 Aug 11:00</text>
<line x1="1108.5" y1="874" x2="1108.5" y2="877" stroke="#000" stroke-width="1"/>
<text x="1107" y="886" class="ax" textLength="56" lengthAdjust="spacingAndGlyphs">13 Aug 19:00</text>
<line x1="1172.5" y1="874" x2="1172.5" y2="877" stroke="#000" stroke-width="1"/>
<text x="1171" y="886" class="ax" textLength="56" lengthAdjust="spacingAndGlyphs">16 Aug 04:00</text>
<rect x="1569" y="235" width="41" height="11" fill="#ff0000"/>
<text x="1573.5" y="244" class="ax" fill="#fff" style="fill:#fff" textLength="32.5" lengthAdjust="spacingAndGlyphs">1792.92</text>
<rect x="1569" y="312" width="41" height="11" fill="#000"/>
<text x="1573.5" y="321" class="ax" style="fill:#fff" textLength="32.5" lengthAdjust="spacingAndGlyphs">1778.21</text>
<rect x="1569" y="415" width="41" height="11" fill="#ff0000"/>
<text x="1573.5" y="424" class="ax" style="fill:#fff" textLength="32.5" lengthAdjust="spacingAndGlyphs">1757.91</text>
<polygon points="1188,1 1197,1 1192.5,6" fill="#778899"/>
</svg>
</body></html>
